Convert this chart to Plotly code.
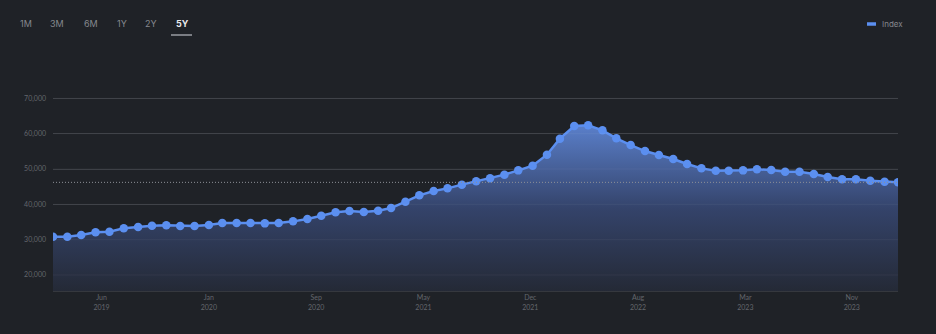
import pandas as pd
import plotly.graph_objects as go

# Monthly index values, Mar 2019 – Mar 2024
dates = pd.date_range("2019-03-01", periods=61, freq="MS")
index_values = [
    30850, 30850, 31300, 32070, 32260, 33200, 33570, 33960, 34050, 33850,
    33850, 34140, 34700, 34700, 34700, 34610, 34700, 35180, 35840, 36790,
    37730, 38100, 37810, 38200, 38940, 40750, 42540, 43760, 44520, 45570,
    46500, 47400, 48400, 49610, 50940, 54050, 58590, 62150, 62350, 60940,
    58670, 56780, 55080, 53950, 52820, 51400, 50180, 49530, 49530, 49610,
    49900, 49700, 49250, 49250, 48570, 47720, 47070, 47070, 46700, 46420,
    46220,
]

# Axis ticks
x_tick_dates = ["2019-06-14", "2020-02-01", "2020-09-20", "2021-05-10",
                "2021-12-27", "2022-08-17", "2023-04-06", "2023-11-22"]
x_tick_text = ["Jun<br>2019", "Jan<br>2020", "Sep<br>2020", "May<br>2021",
               "Dec<br>2021", "Aug<br>2022", "Mar<br>2023", "Nov<br>2023"]
y_tick_vals = [20000, 30000, 40000, 50000, 60000, 70000]
y_tick_text = ["20,000", "30,000", "40,000", "50,000", "60,000", "70,000"]

range_buttons = ["1M", "3M", "6M", "1Y", "2Y", "5Y"]
active_button = "5Y"

BG = "#1f2227"
BLUE = "#5b8ff0"
GRID = "#393c42"
TEXT = "#63666c"

fig = go.Figure()
fig.add_trace(go.Scatter(
    x=dates, y=index_values, name="Index",
    mode="lines+markers",
    line=dict(color=BLUE, width=2.5),
    marker=dict(color=BLUE, size=8.5),
    fill="tozeroy",
    fillgradient=dict(
        type="vertical",
        colorscale=[[0, "#242935"], [0.5, "#34436a"], [1, "#5a7fca"]],
        start=15000, stop=62500,
    ),
    showlegend=False,
))

# faint grid lines showing through the filled area
for v in y_tick_vals:
    fig.add_shape(type="line", xref="paper", x0=0, x1=1, yref="y", y0=v, y1=v,
                  line=dict(color="rgba(255,255,255,0.05)", width=1), layer="above")

# last-value guide line
fig.add_shape(type="line", xref="paper", x0=0, x1=1,
              yref="y", y0=index_values[-1], y1=index_values[-1],
              line=dict(color="#8d9096", width=1, dash="1px,2px"), layer="above")

# range buttons
btn_x = [26, 57, 91, 122, 151, 182]
row_y = (334 - 24 - 43) / 248
for label, px in zip(range_buttons, btn_x):
    is_active = label == active_button
    fig.add_annotation(
        xref="paper", yref="paper",
        x=(px - 53) / 845, y=row_y,
        text=f"<b>{label}</b>" if is_active else label,
        showarrow=False, xanchor="center", yanchor="middle",
        font=dict(family="Inter, Lato, sans-serif", size=9,
                  color="#e8e9eb" if is_active else "#85888e"),
    )
    if is_active:
        fig.add_shape(type="line", xref="paper", yref="paper",
                      x0=(px - 11 - 53) / 845, x1=(px + 10 - 53) / 845,
                      y0=(334 - 35 - 43) / 248, y1=(334 - 35 - 43) / 248,
                      line=dict(color="#9a9da3", width=1.5))

# legend entry
fig.add_shape(type="line", xref="paper", yref="paper",
              x0=(867 - 53) / 845, x1=(876 - 53) / 845,
              y0=row_y, y1=row_y,
              line=dict(color=BLUE, width=3.5))
fig.add_annotation(xref="paper", yref="paper",
                   x=(880 - 53) / 845, y=row_y,
                   text="Index", showarrow=False,
                   xanchor="left", yanchor="middle",
                   font=dict(family="Inter, Lato, sans-serif", size=8, color="#85888e"))

fig.update_layout(
    width=936, height=334,
    margin=dict(l=53, r=38, t=43, b=43),
    paper_bgcolor=BG, plot_bgcolor=BG,
    font=dict(family="Lato, Inter, sans-serif", size=7, color=TEXT),
    xaxis=dict(
        range=[dates[0], dates[-1]],
        tickvals=x_tick_dates, ticktext=x_tick_text,
        showgrid=False, zeroline=False,
        showline=True, linecolor="#35383e", linewidth=1,
        ticks="", tickfont=dict(size=7, color=TEXT),
    ),
    yaxis=dict(
        range=[15470, 85660],
        tickvals=y_tick_vals, ticktext=y_tick_text,
        showgrid=True, gridcolor=GRID, gridwidth=1,
        zeroline=False, showline=False, ticks="",
        ticklabelstandoff=6,
        tickfont=dict(size=7, color=TEXT),
    ),
)

fig.write_html("out.html")
